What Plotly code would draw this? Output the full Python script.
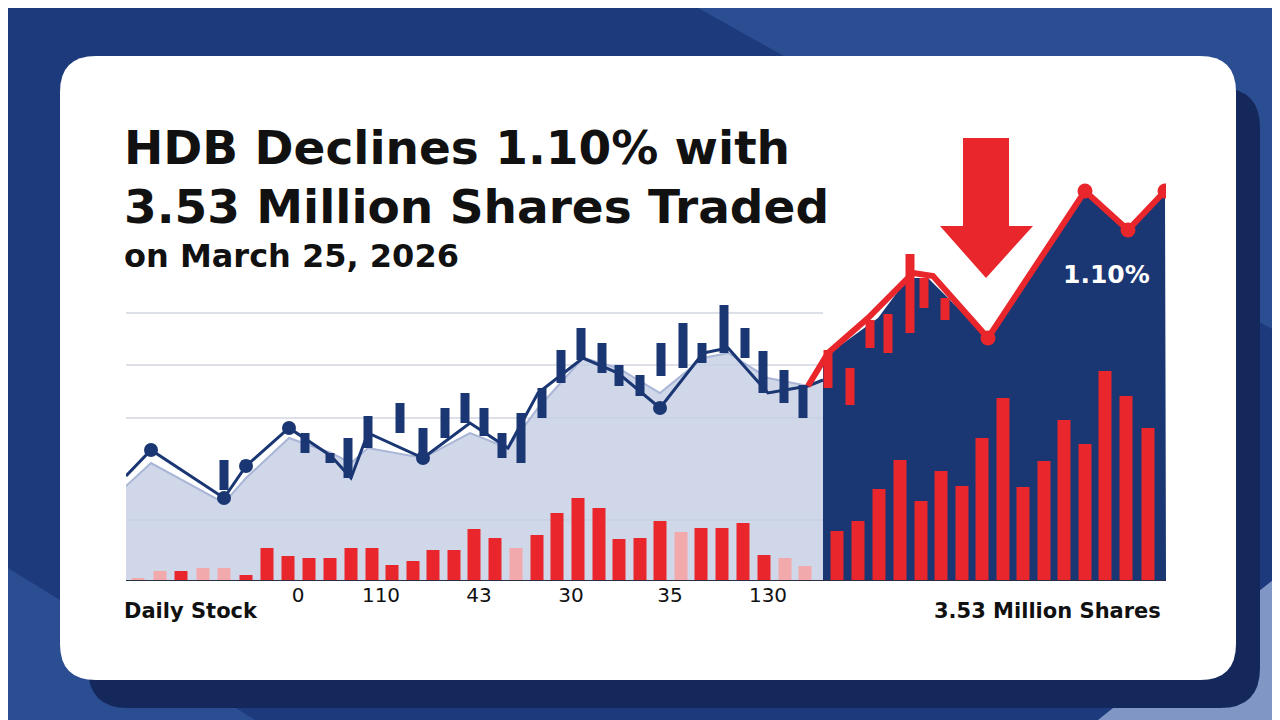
import plotly.graph_objects as go

# positions in chart units: x = session position, y = level (axis reversed, 573 = baseline)
vol_x_left = [130, 152, 173, 195, 216, 238, 259, 280, 301, 322, 343, 364, 384, 405, 425, 446, 466,
              487, 508, 529, 549, 570, 591, 611, 632, 652, 673, 693, 714, 735, 756, 777, 797]
vol_top_left = [570, 563, 563, 560, 560, 567, 540, 548, 550, 550, 540, 540, 557, 553, 542, 542, 521,
                530, 540, 527, 505, 490, 500, 531, 530, 513, 524, 520, 520, 515, 547, 550, 558]
vol_faded = [1, 1, 0, 1, 1, 0, 0, 0, 0, 0, 0, 0, 0, 0, 0, 0, 0,
             0, 1, 0, 0, 0, 0, 0, 0, 0, 1, 0, 0, 0, 0, 1, 1]
vol_x_right = [829, 850, 871, 892, 913, 933, 954, 974, 995, 1015, 1036, 1056, 1077, 1097, 1118, 1140]
vol_top_right = [523, 513, 481, 452, 493, 463, 478, 430, 390, 479, 453, 412, 436, 363, 388, 420]

line_x = [118, 143, 216, 238, 281, 323, 343, 360, 415, 462, 500, 530, 575, 610, 652, 695, 720, 760, 800, 815]
line_y = [468, 442, 490, 458, 420, 448, 470, 425, 450, 415, 440, 385, 350, 365, 400, 345, 340, 385, 378, 372]
fill_y = [478, 455, 495, 470, 430, 445, 455, 440, 450, 425, 440, 400, 350, 360, 385, 350, 345, 370, 378, 372]
dot_x = [143, 216, 238, 281, 415, 652]
dot_y = [442, 490, 458, 420, 450, 400]

red_x = [800, 820, 860, 880, 905, 925, 980, 1077, 1120, 1157]
red_y = [378, 345, 310, 290, 265, 268, 330, 183, 222, 183]
red_dot_x = [980, 1077, 1120, 1157]
red_dot_y = [330, 183, 222, 183]

area_x = [815, 815, 870, 900, 920, 980, 1030, 1077, 1120, 1157, 1158]
area_y = [573, 350, 310, 270, 270, 330, 250, 183, 222, 183, 573]

candle_x = [216, 238, 297, 322, 340, 360, 392, 415, 437, 457, 476, 494, 513, 534, 553, 573,
            594, 611, 632, 653, 675, 694, 716, 737, 755, 776, 795]
candle_hi = [452, 452, 425, 445, 430, 408, 395, 420, 400, 385, 400, 425, 405, 380, 342, 320,
             335, 357, 367, 335, 315, 335, 297, 320, 343, 362, 377]
candle_lo = [482, 462, 445, 455, 470, 440, 425, 445, 430, 415, 428, 450, 455, 410, 375, 352,
             365, 378, 388, 368, 360, 355, 345, 350, 385, 395, 410]
rcandle_x = [820, 842, 862, 880, 902, 916, 937]
rcandle_hi = [342, 360, 312, 306, 246, 270, 290]
rcandle_lo = [380, 397, 340, 345, 325, 300, 312]

tick_x = [290, 373, 471, 563, 662, 760]
tick_text = ["0", "110", "43", "30", "35", "130"]

NAVY = "#1a3673"
RED = "#e8262b"
FONT = "DejaVu Sans, sans-serif"
BASE = 573


def px(x):
    return x / 1280


def py(y):
    return 1 - y / 720


def rrect(x0, y0, x1, y1, r):
    return (f"M {px(x0+r)},{py(y0)} L {px(x1-r)},{py(y0)} Q {px(x1)},{py(y0)} {px(x1)},{py(y0+r)} "
            f"L {px(x1)},{py(y1-r)} Q {px(x1)},{py(y1)} {px(x1-r)},{py(y1)} L {px(x0+r)},{py(y1)} "
            f"Q {px(x0)},{py(y1)} {px(x0)},{py(y1-r)} L {px(x0)},{py(y0+r)} Q {px(x0)},{py(y0)} {px(x0+r)},{py(y0)} Z")


def poly(pts):
    return "M " + " L ".join(f"{px(a)},{py(b)}" for a, b in pts) + " Z"


def segs(xs, y0s, y1s):
    sx, sy = [], []
    for x, a, b in zip(xs, y0s, y1s):
        sx += [x, x, None]
        sy += [a, b, None]
    return sx, sy


fig = go.Figure()

# light area on the left
fig.add_trace(go.Scatter(x=[118, 815], y=[BASE, BASE], mode="lines", line_width=0))
fig.add_trace(go.Scatter(x=line_x, y=fill_y, mode="lines", fill="tonexty",
                         fillcolor="rgba(196,205,228,0.8)", line=dict(color="rgba(170,182,215,1)", width=2)))
# volume bars left
for faded, col in [(1, "#f2a9ab"), (0, RED)]:
    xs = [x for x, f in zip(vol_x_left, vol_faded) if f == faded]
    ts = [t for t, f in zip(vol_top_left, vol_faded) if f == faded]
    sx, sy = segs(xs, [BASE] * len(xs), ts)
    fig.add_trace(go.Scatter(x=sx, y=sy, mode="lines", line=dict(color=col, width=13)))
# dark area right
fig.add_trace(go.Scatter(x=area_x, y=area_y, mode="lines", fill="toself", fillcolor=NAVY,
                         line=dict(color=NAVY, width=0)))
sx, sy = segs(vol_x_right, [BASE] * len(vol_x_right), vol_top_right)
fig.add_trace(go.Scatter(x=sx, y=sy, mode="lines", line=dict(color=RED, width=13)))
# navy line and candles
fig.add_trace(go.Scatter(x=line_x, y=line_y, mode="lines", line=dict(color=NAVY, width=3)))
sx, sy = segs(candle_x, candle_hi, candle_lo)
fig.add_trace(go.Scatter(x=sx, y=sy, mode="lines", line=dict(color=NAVY, width=9)))
sx, sy = segs(rcandle_x, rcandle_hi, rcandle_lo)
fig.add_trace(go.Scatter(x=sx, y=sy, mode="lines", line=dict(color=RED, width=9)))
fig.add_trace(go.Scatter(x=dot_x, y=dot_y, mode="markers", marker=dict(color=NAVY, size=14)))
fig.add_trace(go.Scatter(x=red_x, y=red_y, mode="lines", line=dict(color=RED, width=6)))
fig.add_trace(go.Scatter(x=red_dot_x, y=red_dot_y, mode="markers", marker=dict(color=RED, size=15)))

shapes = [
    dict(type="path", path=poly([(690, 0), (1280, 0), (1280, 330)]), xref="paper", yref="paper",
         fillcolor="#2b4d92", line_width=0, layer="below"),
    dict(type="path", path=poly([(0, 560), (260, 720), (0, 720)]), xref="paper", yref="paper",
         fillcolor="#2b4d92", line_width=0, layer="below"),
    dict(type="path", path=poly([(1080, 720), (1280, 560), (1280, 720)]), xref="paper", yref="paper",
         fillcolor="#8096c4", line_width=0, layer="below"),
    dict(type="path", path=rrect(80, 80, 1252, 700, 40), xref="paper", yref="paper",
         fillcolor="#14285c", line_width=0, layer="below"),
    dict(type="path", path=rrect(52, 48, 1228, 672, 36), xref="paper", yref="paper",
         fillcolor="white", line_width=0, layer="below"),
    dict(type="line", x0=118, x1=1158, y0=BASE, y1=BASE, xref="x", yref="y",
         line=dict(color="#2a2f45", width=2)),
    dict(type="path", path=poly([(955, 130), (1001, 130), (1001, 218), (1025, 218), (978, 270),
                                  (932, 218), (955, 218)]), xref="paper", yref="paper",
         fillcolor=RED, line_width=0),
]
for gy in [305, 357, 410, 512]:
    shapes.append(dict(type="line", x0=118, x1=815, y0=gy, y1=gy, xref="x", yref="y", layer="below",
                       line=dict(color="#d2d6e2", width=1.5)))

ann = [
    dict(text="<b>HDB Declines 1.10% with</b>", x=px(114), y=py(140), size=47, color="#111111"),
    dict(text="<b>3.53 Million Shares Traded</b>", x=px(114), y=py(198), size=47, color="#111111"),
    dict(text="<b>on March 25, 2026</b>", x=px(114), y=py(248), size=32, color="#111111"),
    dict(text="<b>Daily Stock</b>", x=px(114), y=py(603), size=21, color="#111111"),
    dict(text="<b>3.53 Million Shares</b>", x=px(1155), y=py(603), size=21, color="#111111", xanchor="right"),
    dict(text="<b>1.10%</b>", x=px(1098), y=py(266), size=25, color="white", xanchor="center"),
]
annotations = []
for a in ann:
    annotations.append(dict(text=a["text"], x=a["x"], y=a["y"], xref="paper", yref="paper",
                            showarrow=False, yanchor="middle", xanchor=a.get("xanchor", "left"),
                            font=dict(family=FONT, size=a["size"], color=a["color"])))

fig.update_layout(
    width=1280, height=720, margin=dict(l=0, r=0, t=0, b=0),
    paper_bgcolor="#1c3a7c", plot_bgcolor="rgba(0,0,0,0)", showlegend=False,
    shapes=shapes, annotations=annotations,
    xaxis=dict(domain=[px(118), px(1158)], range=[118, 1158], showgrid=False, zeroline=False,
               tickvals=tick_x, ticktext=tick_text, ticks="",
               tickfont=dict(family=FONT, size=20, color="#111111")),
    yaxis=dict(domain=[py(BASE), py(170)], range=[BASE, 170], showgrid=False, zeroline=False,
               showticklabels=False),
)
fig.write_html("out.html")
